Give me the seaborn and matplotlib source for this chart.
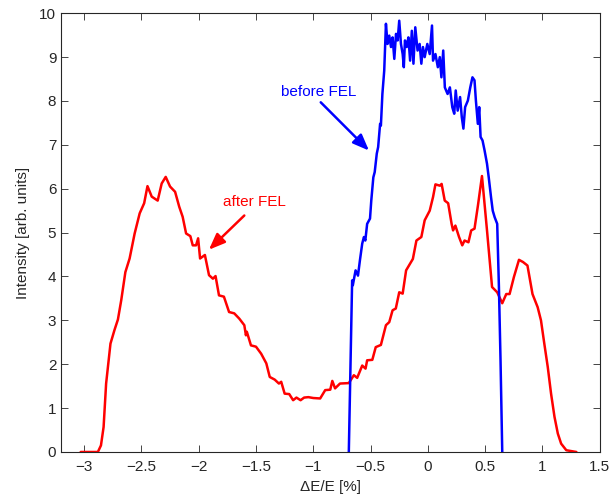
import numpy as np
import pandas as pd
import seaborn as sns
import matplotlib
matplotlib.use("Agg")
import matplotlib.pyplot as plt

# energy spread after the FEL (red)
after_x = [-3.03, -2.88, -2.853, -2.83, -2.808, -2.77, -2.735, -2.705, -2.676, -2.64,
           -2.603, -2.559, -2.515, -2.476, -2.447, -2.41, -2.358, -2.323, -2.288, -2.25,
           -2.206, -2.17, -2.14, -2.11, -2.073, -2.052, -2.023, -2.005, -1.988, -1.946,
           -1.91, -1.876, -1.853, -1.823, -1.78, -1.735, -1.69, -1.646, -1.602, -1.588,
           -1.58, -1.544, -1.5, -1.455, -1.41, -1.38, -1.337, -1.3, -1.28, -1.25,
           -1.21, -1.176, -1.147, -1.111, -1.08, -1.043, -1.0, -0.94, -0.896, -0.852,
           -0.834, -0.81, -0.767, -0.69, -0.646, -0.617, -0.573, -0.544, -0.53, -0.485,
           -0.455, -0.41, -0.366, -0.337, -0.308, -0.28, -0.25, -0.22, -0.19, -0.131,
           -0.1, -0.057, -0.028, 0.016, 0.045, 0.066, 0.104, 0.12, 0.147, 0.177,
           0.207, 0.22, 0.24, 0.272, 0.3, 0.32, 0.354, 0.378, 0.407, 0.437,
           0.472, 0.516, 0.56, 0.605, 0.649, 0.684, 0.713, 0.751, 0.795, 0.83,
           0.869, 0.913, 0.958, 0.987, 1.016, 1.046, 1.075, 1.105, 1.134, 1.163,
           1.208, 1.296]
after_y = [0.0, 0.0, 0.15, 0.57, 1.56, 2.47, 2.78, 3.02, 3.46, 4.1,
           4.41, 4.98, 5.44, 5.67, 6.06, 5.82, 5.73, 6.12, 6.27, 6.05,
           5.93, 5.59, 5.36, 4.98, 4.92, 4.71, 4.71, 4.87, 4.41, 4.49,
           4.03, 3.95, 4.01, 3.57, 3.54, 3.19, 3.16, 3.04, 2.89, 2.66,
           2.74, 2.43, 2.40, 2.24, 2.02, 1.71, 1.65, 1.56, 1.6, 1.33,
           1.32, 1.18, 1.24, 1.18, 1.24, 1.25, 1.23, 1.22, 1.41, 1.42,
           1.62, 1.45, 1.56, 1.57, 1.75, 1.69, 1.97, 1.9, 2.09, 2.1,
           2.39, 2.44, 2.89, 2.96, 3.23, 3.27, 3.64, 3.61, 4.14, 4.4,
           4.82, 4.9, 5.28, 5.5, 5.81, 6.1, 6.07, 6.11, 5.73, 5.67,
           5.2, 5.05, 5.16, 4.9, 4.71, 4.82, 4.78, 5.05, 5.09, 5.62,
           6.29, 5.05, 3.76, 3.64, 3.39, 3.6, 3.6, 3.99, 4.38, 4.33,
           4.25, 3.6, 3.3, 3.0, 2.47, 1.94, 1.33, 0.8, 0.42, 0.19,
           0.04, 0.0]

# energy spread before the FEL (blue)
before_x = [-0.69, -0.661, -0.655, -0.631, -0.61, -0.593, -0.573, -0.558, -0.546, -0.53,
            -0.505, -0.494, -0.476, -0.464, -0.446, -0.434, -0.417, -0.41, -0.397, -0.381,
            -0.366, -0.352, -0.337, -0.322, -0.308, -0.293, -0.278, -0.264, -0.25, -0.235,
            -0.22, -0.21, -0.2, -0.185, -0.17, -0.155, -0.14, -0.126, -0.11, -0.09,
            -0.072, -0.057, -0.043, -0.028, -0.005, 0.016, 0.036, 0.045, 0.066, 0.087,
            0.104, 0.118, 0.134, 0.148, 0.172, 0.192, 0.213, 0.23, 0.243, 0.26,
            0.281, 0.296, 0.31, 0.325, 0.349, 0.37, 0.389, 0.407, 0.419, 0.436,
            0.448, 0.46, 0.477, 0.495, 0.516, 0.531, 0.551, 0.566, 0.583, 0.605,
            0.62, 0.634, 0.649]
before_y = [0.0, 3.91, 3.8, 4.14, 4.02, 4.37, 4.75, 4.9, 4.82, 5.2,
            5.32, 5.73, 6.26, 6.38, 6.8, 6.95, 7.48, 7.44, 8.16, 8.69,
            9.76, 9.3, 9.49, 9.23, 9.45, 8.96, 9.53, 9.38, 9.83, 9.3,
            9.07, 8.77, 9.38, 9.23, 9.45, 8.92, 9.6, 8.85, 9.68, 9.15,
            9.3, 8.85, 9.23, 9.0, 9.3, 9.07, 9.72, 8.92, 9.07, 8.77,
            9.0, 8.54, 9.15, 8.31, 8.16, 8.31, 7.86, 7.71, 8.24, 7.78,
            8.09, 7.63, 7.37, 7.86, 8.01, 8.31, 8.54, 8.47, 8.01, 7.48,
            7.86, 7.18, 7.1, 6.87, 6.57, 6.26, 5.81, 5.5, 5.35, 5.2,
            3.76, 2.09, 0.0]

sns.set_style("ticks")
plt.rcParams['font.family'] = ['Liberation Sans', 'DejaVu Sans']
plt.rcParams['xtick.direction'] = 'in'
plt.rcParams['ytick.direction'] = 'in'

fig = plt.figure(figsize=(6.12, 4.98), dpi=100)
ax = fig.add_axes([0.1, 0.0924, 0.88, 0.881])

sns.lineplot(x=after_x, y=after_y, color='red', lw=1.8, sort=False, ax=ax)
sns.lineplot(x=before_x, y=before_y, color='blue', lw=1.8, sort=False, ax=ax)

arrow = '-|>,head_length=0.7,head_width=0.28'
ax.text(-1.51, 5.7, 'after FEL', color='red', fontsize=11, ha='center', va='center')
ax.annotate('', xy=(-1.911, 4.61), xytext=(-1.602, 5.39),
            arrowprops=dict(arrowstyle=arrow, color='red', lw=1.8,
                            shrinkA=0, shrinkB=0, mutation_scale=14))
ax.text(-0.955, 8.2, 'before FEL', color='blue', fontsize=11, ha='center', va='center')
ax.annotate('', xy=(-0.514, 6.87), xytext=(-0.935, 7.97),
            arrowprops=dict(arrowstyle=arrow, color='blue', lw=1.8,
                            shrinkA=0, shrinkB=0, mutation_scale=14))

ax.set_xlim(-3.2, 1.5)
ax.set_ylim(0, 10)
ax.set_xticks(np.arange(-3, 1.51, 0.5))
ax.set_xticklabels(['\u22123', '\u22122.5', '\u22122', '\u22121.5', '\u22121',
                    '\u22120.5', '0', '0.5', '1', '1.5'])
ax.set_yticks(range(0, 11))
ax.tick_params(top=True, right=True, labelsize=11, length=5, width=0.6)
ax.tick_params(axis='x', pad=6)
for s in ax.spines.values():
    s.set_visible(True)
    s.set_linewidth(0.8)
ax.set_xlabel('\u0394E/E [%]', fontsize=11, labelpad=4)
ax.set_ylabel('Intensity [arb. units]', fontsize=11, labelpad=7)

fig.savefig('out.png', dpi=100)
